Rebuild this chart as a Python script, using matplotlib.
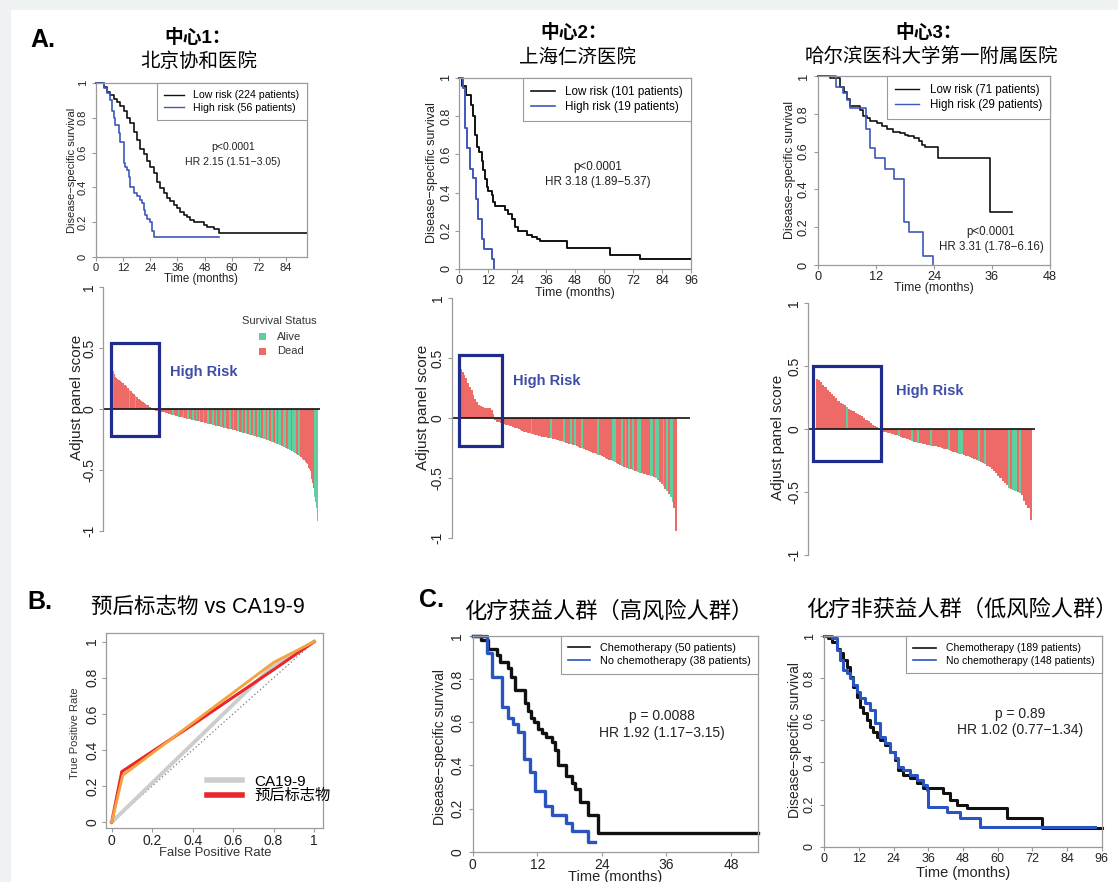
import numpy as np
import matplotlib
matplotlib.use('Agg')
import matplotlib.pyplot as plt
from matplotlib.patches import Rectangle
from matplotlib.lines import Line2D

# ---------------- data ----------------
# panel A, Kaplan-Meier curves (months, survival)
km1_low_t = [0, 3.4, 4.9, 6.3, 7.8, 9.3, 10.8, 12.2, 13.7, 15.2, 16.7, 18.1, 19.6, 21.1, 22.6, 24.0, 25.5,
             27.0, 28.4, 29.9, 31.4, 32.9, 34.3, 35.8, 37.3, 38.8, 40.2, 41.7, 43.2, 47.6, 49.1, 52.0, 54.2, 93.3]
km1_low_s = [1, 0.977, 0.95, 0.93, 0.91, 0.89, 0.87, 0.84, 0.80, 0.77, 0.72, 0.67, 0.62, 0.59, 0.55, 0.52, 0.48,
             0.43, 0.395, 0.37, 0.34, 0.32, 0.30, 0.28, 0.26, 0.24, 0.23, 0.21, 0.20, 0.185, 0.17, 0.16, 0.137, 0.137]
km1_high_t = [0, 3.4, 4.9, 6.3, 7.1, 7.8, 8.5, 10.0, 10.8, 12.2, 13.0, 13.7, 14.4, 15.2, 16.7, 18.1, 19.6,
              20.3, 21.1, 21.8, 22.6, 24.0, 24.8, 25.8, 54.2]
km1_high_s = [1, 0.97, 0.94, 0.90, 0.84, 0.80, 0.76, 0.71, 0.66, 0.54, 0.52, 0.50, 0.46, 0.40, 0.37, 0.35, 0.33,
              0.31, 0.27, 0.24, 0.22, 0.20, 0.147, 0.113, 0.113]

km2_low_t = [0, 1.1, 2.9, 4.8, 5.7, 6.6, 7.6, 8.4, 9.4, 10.1, 10.8, 11.4, 12.1, 13.5, 14.2, 14.9, 19.0, 20.4,
             21.8, 23.2, 24.6, 28.0, 30.1, 32.1, 33.5, 44.6, 62.5, 74.9, 96]
km2_low_s = [1, 0.956, 0.91, 0.86, 0.80, 0.70, 0.64, 0.61, 0.565, 0.52, 0.47, 0.43, 0.41, 0.39, 0.35, 0.33, 0.31,
             0.29, 0.26, 0.22, 0.197, 0.18, 0.17, 0.157, 0.148, 0.11, 0.075, 0.052, 0.052]
km2_high_t = [0, 1.5, 2.5, 3.4, 4.6, 5.7, 6.9, 8.0, 9.4, 10.3, 13.5, 14.5]
km2_high_s = [1, 0.947, 0.737, 0.632, 0.526, 0.474, 0.368, 0.263, 0.158, 0.105, 0.053, 0.0]

km3_low_t = [0, 2.5, 4.6, 5.3, 6.0, 6.7, 8.7, 9.4, 10.1, 10.8, 12.2, 13.2, 14.2, 15.6, 17.0, 18.0, 18.7, 19.8,
             20.8, 21.5, 22.2, 24.9, 35.6, 40.1]
km3_low_s = [1, 0.987, 0.94, 0.917, 0.88, 0.84, 0.82, 0.79, 0.776, 0.763, 0.75, 0.735, 0.72, 0.705, 0.70, 0.69,
             0.68, 0.67, 0.655, 0.635, 0.626, 0.564, 0.282, 0.282]
km3_high_t = [0, 3.8, 5.2, 6.0, 6.6, 9.9, 10.7, 11.7, 13.9, 15.8, 17.8, 18.9, 21.8, 23.8]
km3_high_s = [1, 0.94, 0.91, 0.875, 0.83, 0.72, 0.62, 0.565, 0.51, 0.455, 0.23, 0.175, 0.05, 0.0]

km_labels = [['Low risk (224 patients)', 'High risk (56 patients)'],
             ['Low risk (101 patients)', 'High risk (19 patients)'],
             ['Low risk (71 patients)', 'High risk (29 patients)']]
km_stats = [['p<0.0001', 'HR 2.15 (1.51\u22123.05)'],
            ['p<0.0001', 'HR 3.18 (1.89\u22125.37)'],
            ['p<0.0001', 'HR 3.31 (1.78\u22126.16)']]

# panel A, waterfall of adjusted panel score (sorted), A = alive, D = dead
wf1_score = [0.40, 0.36, 0.33, 0.31, 0.29, 0.27, 0.26, 0.255, 0.25, 0.245, 0.24, 0.235, 0.23, 0.225, 0.22, 0.215,
             0.21, 0.205, 0.20, 0.195, 0.19, 0.18, 0.175, 0.17, 0.16, 0.155, 0.15, 0.145, 0.14, 0.13, 0.125, 0.12,
             0.115, 0.11, 0.10, 0.095, 0.09, 0.085, 0.08, 0.075, 0.07, 0.065, 0.06, 0.055, 0.05, 0.047, 0.044,
             0.04, 0.036, 0.033, 0.03, 0.025, 0.02, 0.016, 0.012, 0.008,
             -0.005, -0.008, -0.01, -0.012, -0.014, -0.016, -0.018, -0.019, -0.02, -0.021, -0.022, -0.023, -0.024,
             -0.025, -0.026, -0.027, -0.028, -0.03,
             -0.032, -0.034, -0.036, -0.038, -0.04, -0.042, -0.044, -0.046, -0.048, -0.05, -0.051, -0.053, -0.054,
             -0.056, -0.057, -0.059, -0.06, -0.062, -0.063, -0.065, -0.066, -0.068, -0.069, -0.071, -0.072, -0.074,
             -0.076,
             -0.077, -0.079, -0.08, -0.082, -0.083, -0.084, -0.086, -0.087, -0.088, -0.09, -0.091, -0.092, -0.094,
             -0.095, -0.096, -0.097, -0.098, -0.099,
             -0.10, -0.102, -0.104, -0.105, -0.107, -0.109, -0.11, -0.112, -0.114, -0.115, -0.117, -0.119, -0.12,
             -0.122, -0.124, -0.125, -0.127, -0.129, -0.13, -0.132, -0.133, -0.135, -0.136,
             -0.137, -0.139, -0.14, -0.142, -0.143, -0.145, -0.146, -0.148, -0.149, -0.151, -0.152, -0.154, -0.155,
             -0.157, -0.158, -0.16, -0.161, -0.162, -0.164, -0.165, -0.166, -0.168, -0.169,
             -0.17, -0.172, -0.174, -0.176, -0.178, -0.18, -0.182, -0.184, -0.186, -0.188, -0.19, -0.192, -0.193,
             -0.195, -0.197, -0.199, -0.2, -0.202, -0.204, -0.205, -0.207, -0.209,
             -0.21, -0.212, -0.214, -0.215, -0.217, -0.219, -0.22, -0.222, -0.224, -0.226, -0.228, -0.229, -0.231,
             -0.233, -0.235, -0.236, -0.238, -0.24, -0.242, -0.243, -0.245, -0.247, -0.249,
             -0.25, -0.253, -0.255, -0.258, -0.26, -0.263, -0.265, -0.268, -0.27, -0.273, -0.275, -0.278, -0.28,
             -0.283, -0.285, -0.288, -0.29, -0.293, -0.296, -0.299, -0.302, -0.305, -0.308,
             -0.31, -0.313, -0.316, -0.319, -0.322, -0.325, -0.328, -0.331, -0.334, -0.337, -0.34, -0.344, -0.347,
             -0.35, -0.354, -0.358, -0.362, -0.366, -0.37, -0.374, -0.378, -0.382, -0.386,
             -0.39, -0.396, -0.402, -0.408, -0.414, -0.42, -0.427, -0.434, -0.44,
             -0.45, -0.465, -0.48, -0.495, -0.51,
             -0.54, -0.57, -0.61, -0.65, -0.69, -0.72, -0.76, -0.81, -0.86, -0.92]
wf1_status = ("DDDADDDDDD" "DDDDDDDDDD" "DDDDDADDAD" "DDDADDDDDD" "ADDDDDDADD" "DDDDDD"
              "DDDDDDADDDDDDDAD" "DDDDDDADDDDAADDD" "DDDADDDDDAADDDDA" "ADDDDDAADDDADDDA"
              "ADDDAADDDDAAADDD" "DAADDDAADDDAAADD" "DAAADDDDAADDDAAD" "DDAAADDDDAADDAAA"
              "DDDAADDDAAADDDAA" "DAADDDAAADDAAADD" "AAADDDAADDAAAADD" "DAAAADDDAAADDAAA"
              "AADDDAADDDDDDDDD" "DDDDDDDDDDDAAAAA")

wf2_score = [0.41, 0.38, 0.36, 0.33, 0.29, 0.26, 0.23, 0.19, 0.16, 0.13, 0.11, 0.10, 0.09, 0.085, 0.083, 0.08,
             0.08, 0.07, 0.03,
             -0.02, -0.03, -0.035, -0.04, -0.045, -0.05, -0.055, -0.06, -0.065, -0.07, -0.075,
             -0.08, -0.087, -0.094, -0.10, -0.107, -0.113, -0.118, -0.123, -0.128,
             -0.133, -0.137, -0.14, -0.144, -0.148, -0.151, -0.155, -0.158, -0.161, -0.164, -0.167, -0.17, -0.173,
             -0.175, -0.18, -0.185, -0.19, -0.195, -0.2, -0.205, -0.21, -0.214,
             -0.217, -0.223, -0.229, -0.235, -0.241, -0.247, -0.253, -0.259, -0.265,
             -0.27, -0.276, -0.282, -0.288, -0.294, -0.3, -0.306, -0.312, -0.318, -0.324,
             -0.33, -0.338, -0.346, -0.354, -0.362, -0.37, -0.378, -0.386, -0.394,
             -0.40, -0.405, -0.41, -0.416, -0.422, -0.428, -0.434, -0.44, -0.445,
             -0.45, -0.455, -0.46, -0.464, -0.468, -0.472, -0.476, -0.481, -0.486,
             -0.49, -0.5, -0.52, -0.535, -0.55, -0.57, -0.59, -0.61, -0.635, -0.66, -0.7, -0.75, -0.94]
wf2_status = ("DDDDDDDDDDDDDDDDDDD"
              "DDDDDDDDDD" "DDDDDDDDDD" "ADDDDDDDDD" "DADDDDDDAD" "DDADADDDAD"
              "DDDDDDDADD" "DDDDDAADDD" "ADADADADDA" "ADDDDDAADA" "ADDADADAAD" "D")

wf3_score = [0.40, 0.39, 0.37, 0.35, 0.33, 0.31, 0.29, 0.275, 0.26, 0.245, 0.225, 0.21, 0.20, 0.19, 0.175, 0.16,
             0.15, 0.14, 0.13, 0.12, 0.11, 0.10, 0.085, 0.075, 0.06, 0.045, 0.035, 0.025, 0.012,
             -0.01, -0.014, -0.02, -0.025, -0.03, -0.035, -0.04,
             -0.045, -0.051, -0.057, -0.063, -0.068, -0.074, -0.08, -0.087, -0.094,
             -0.10, -0.105, -0.11, -0.115, -0.12, -0.123, -0.126, -0.129, -0.132,
             -0.135, -0.138, -0.142, -0.146, -0.15, -0.156, -0.162, -0.168, -0.174,
             -0.18, -0.185, -0.19, -0.195, -0.2, -0.205, -0.211, -0.217, -0.223,
             -0.23, -0.238, -0.246, -0.254, -0.262, -0.27, -0.28, -0.29,
             -0.30, -0.316, -0.333, -0.35, -0.37, -0.39, -0.41, -0.43, -0.448,
             -0.465, -0.475, -0.485, -0.495, -0.503, -0.511, -0.52,
             -0.57, -0.60, -0.63, -0.72]
wf3_status = ("DDDDDDDDDDDDDDADDDDDDDDDDDDDD"
              "DDDDDDDDDA" "DDDDDADDAD" "DDDDADDDDD" "DDADDDDAAD" "DDDDDDADDA"
              "DDDDDDDDDD" "ADAADADDDD" "D")

# panel B, ROC curves
roc_diag = [0, 1]
roc_ca_fpr = [0, 0.8, 1]
roc_ca_tpr = [0, 0.87, 1]
roc_red_fpr = [0, 0.05, 0.4, 0.8, 1]
roc_red_tpr = [0, 0.28, 0.54, 0.845, 1]
roc_org_fpr = [0, 0.055, 0.4, 0.8, 1]
roc_org_tpr = [0, 0.26, 0.55, 0.885, 1]
roc_labels = ['CA19-9', '预后标志物']

# panel C, chemotherapy benefit
cl_chemo_t = [0, 1.55, 2.9, 4.45, 5.07, 6.6, 7.2, 7.85, 9.7, 10.3, 10.9, 11.4, 12.1, 12.8, 13.7, 14.7, 15.3,
              15.9, 17.4, 18.4, 19.0, 19.9, 21.5, 23.3, 53]
cl_chemo_s = [1, 0.98, 0.94, 0.91, 0.88, 0.85, 0.81, 0.75, 0.69, 0.65, 0.62, 0.60, 0.57, 0.55, 0.53, 0.51, 0.47,
              0.40, 0.35, 0.32, 0.29, 0.23, 0.17, 0.085, 0.085]
cl_no_t = [0, 2.7, 3.5, 5.4, 6.6, 7.5, 8.5, 9.5, 10.6, 11.6, 13.5, 14.7, 17.4, 18.4, 21.5, 22.7]
cl_no_s = [1, 0.92, 0.81, 0.67, 0.62, 0.59, 0.555, 0.43, 0.37, 0.28, 0.21, 0.17, 0.135, 0.095, 0.045, 0.045]

cr_chemo_t = [0, 1.4, 2.5, 4.3, 5.4, 6.6, 7.7, 8.9, 10.0, 11.2, 12.3, 13.5, 14.7, 15.8, 17.0, 18.1, 19.3, 21.0,
              22.7, 24.5, 25.6, 27.3, 29.7, 32.0, 34.3, 41.2, 43.5, 45.8, 49.3, 63.1, 75.2, 96]
cr_chemo_s = [1, 0.99, 0.97, 0.94, 0.92, 0.886, 0.854, 0.807, 0.76, 0.712, 0.665, 0.633, 0.60, 0.57, 0.546,
              0.522, 0.506, 0.483, 0.45, 0.41, 0.364, 0.34, 0.324, 0.30, 0.277, 0.253, 0.222, 0.198, 0.182,
              0.134, 0.087, 0.087]
cr_no_t = [0, 2.5, 4.3, 5.4, 6.6, 7.7, 8.9, 10.0, 11.2, 12.3, 14.1, 15.8, 17.5, 19.3, 21.0, 22.7, 24.5, 25.6,
           27.3, 29.7, 32.0, 34.3, 35.4, 36.0, 42.3, 47.0, 53.9, 93.7]
cr_no_s = [1, 0.99, 0.934, 0.886, 0.84, 0.823, 0.80, 0.767, 0.736, 0.704, 0.68, 0.65, 0.585, 0.522, 0.49, 0.45,
           0.42, 0.38, 0.364, 0.34, 0.316, 0.293, 0.269, 0.19, 0.166, 0.134, 0.095, 0.095]

c_labels = [['Chemotherapy (50 patients)', 'No chemotherapy (38 patients)'],
            ['Chemotherapy (189 patients)', 'No chemotherapy (148 patients)']]
c_stats = [['p = 0.0088', 'HR 1.92 (1.17\u22123.15)'],
           ['p = 0.89', 'HR 1.02 (0.77\u22121.34)']]

surv_ticks = [0, 0.2, 0.4, 0.6, 0.8, 1]
surv_tick_labels = ['0', '0.2', '0.4', '0.6', '0.8', '1']
score_ticks = [-1, -0.5, 0, 0.5, 1]
score_tick_labels = ['-1', '-0.5', '0', '0.5', '1']

# ---------------- style ----------------
BLACK = '#111111'
BLUE_A = '#4058bb'
BLUE_C = '#2a55c0'
ALIVE = '#5fcf9f'
DEAD = '#ee6a66'
FRAME = '#9a9a9a'
BOXC = '#1f2c8c'
HRC = '#3d4ca6'

W, H = 1118, 882
plt.rcParams['font.family'] = ['Liberation Sans', 'Noto Sans CJK SC']
plt.rcParams['axes.unicode_minus'] = False

fig = plt.figure(figsize=(W / 100, H / 100), dpi=100)
fig.patch.set_facecolor('#eff2f2')
fig.add_artist(Rectangle((11 / W, 0), 1 - 11 / W, 1 - 10 / H, transform=fig.transFigure,
                         facecolor='white', edgecolor='none', zorder=-10))


def px(l, t, r, b):
    return [l / W, 1 - b / H, (r - l) / W, (b - t) / H]


def txt(x, y, s, **kw):
    kw.setdefault('ha', 'center')
    kw.setdefault('va', 'center')
    fig.text(x / W, 1 - y / H, s, **kw)


def frame(ax, fs, pad=3):
    for sp in ax.spines.values():
        sp.set_color(FRAME)
        sp.set_linewidth(0.9)
    ax.tick_params(length=3, width=0.8, color=FRAME, labelsize=fs, labelcolor='#222222', pad=pad)
    ax.tick_params(axis='x', pad=1.2)
    for lab in ax.get_yticklabels():
        lab.set_rotation(90)
        lab.set_va('center')


def km(rect, xmax, xticks, curves, lw, fs, labels, leg_fs, leg_lw, hl, ypad=3):
    ax = fig.add_axes(px(*rect))
    for t, s, c in curves:
        ax.step(t, s, where='post', color=c, lw=lw, clip_on=False)
    ax.set_xlim(0, xmax)
    ax.set_ylim(0, 1)
    ax.set_xticks(xticks)
    ax.set_xticklabels([str(v) for v in xticks])
    ax.set_yticks(surv_ticks)
    ax.set_yticklabels(surv_tick_labels)
    frame(ax, fs, pad=ypad)
    handles = [Line2D([], [], color=c, lw=leg_lw) for _, _, c in curves]
    leg = ax.legend(handles, labels, loc='upper right', bbox_to_anchor=(1, 1), borderaxespad=0,
                    fancybox=False, framealpha=1, fontsize=leg_fs, handlelength=hl,
                    handletextpad=0.9, borderpad=0.7, labelspacing=0.25)
    leg.get_frame().set_edgecolor(FRAME)
    leg.get_frame().set_linewidth(0.8)
    return ax


def waterfall(rect, scores, status, pad, box, fs):
    n = len(scores)
    ax = fig.add_axes(px(*rect))
    cols = [ALIVE if status[i] == 'A' else DEAD for i in range(n)]
    ax.bar(np.arange(n), scores, width=1.0, color=cols, linewidth=0)
    ax.axhline(0, color=BLACK, lw=1.2)
    ax.set_xlim(-0.5 - pad[0], n - 0.5 + pad[1])
    ax.set_ylim(-1, 1)
    nhigh = sum(1 for v in scores if v > 0)
    x0 = -0.5 + box[0]
    x1 = nhigh - 0.5 + box[1]
    ax.add_patch(Rectangle((x0, box[3]), x1 - x0, box[2] - box[3], fill=False,
                           edgecolor=BOXC, lw=2.3, zorder=5))
    for s in ['top', 'right', 'bottom']:
        ax.spines[s].set_visible(False)
    ax.set_xticks([])
    ax.set_yticks(score_ticks)
    ax.set_yticklabels(score_tick_labels)
    frame(ax, fs, pad=2)
    return ax


# ---------------- panel A: KM ----------------
km(( 96, 83, 307, 257), 93.3, [0, 12, 24, 36, 48, 60, 72, 84],
   [(km1_low_t, km1_low_s, BLACK), (km1_high_t, km1_high_s, BLUE_A)], 1.2, 8,
   km_labels[0], 7.6, 1.0, 1.9)
km((459, 78, 691, 269), 96, [0, 12, 24, 36, 48, 60, 72, 84, 96],
   [(km2_low_t, km2_low_s, BLACK), (km2_high_t, km2_high_s, BLUE_A)], 1.4, 9,
   km_labels[1], 8.4, 1.2, 2.0, ypad=2)
km((818, 76, 1050, 265), 48, [0, 12, 24, 36, 48],
   [(km3_low_t, km3_low_s, BLACK), (km3_high_t, km3_high_s, BLUE_A)], 1.2, 9.2,
   km_labels[2], 8.3, 1.0, 2.1)

txt(43, 40, 'A.', fontsize=18, fontweight='bold')
txt(198, 38, '中心1：', fontsize=13.5, fontweight='bold')
txt(199, 62, '北京协和医院', fontsize=14)
txt(574, 33, '中心2：', fontsize=13.5, fontweight='bold')
txt(577, 58, '上海仁济医院', fontsize=14)
txt(929, 33, '中心3：', fontsize=13.5, fontweight='bold')
txt(931, 57, '哈尔滨医科大学第一附属医院', fontsize=14)

for (x, y1, y2), st, fs in zip([(233, 147, 162), (598, 167, 182), (991, 232, 247)], km_stats, [7.6, 8.4, 8.3]):
    txt(x, y1, st[0], fontsize=fs, color='#222222')
    txt(x, y2, st[1], fontsize=fs, color='#222222')

for (x, y), fs in zip([(72, 170), (432, 173), (790, 170)], [8, 9, 8.8]):
    txt(x, y, 'Disease\u2212specific survival', fontsize=fs, rotation=90, color='#222222')
for (x, y), fs in zip([(201, 279), (575, 293), (934, 288)], [8.3, 8.9, 8.9]):
    txt(x, y, 'Time (months)', fontsize=fs, color='#222222')

# ---------------- panel A: waterfalls ----------------
waterfall((103, 287, 320, 531), wf1_score, wf1_status, (10.8, 2.7), (0, 8.5, 0.54, -0.22), 10)
waterfall((451.7, 298, 690, 538), wf2_score, wf2_status, (4.6, 7.2), (-0.4, 4.0, 0.525, -0.23), 10)
waterfall((808, 303, 1035, 555), wf3_score, wf3_status, (3.6, 1.5), (-1.25, 1.2, 0.5, -0.254), 10)

for x, y in [(77, 397), (423, 407), (778, 437)]:
    txt(x, y, 'Adjust panel score', fontsize=11, rotation=90, color='#222222')
for x, y in [(170, 372), (513, 381), (896, 391)]:
    txt(x, y, 'High Risk', fontsize=10.5, fontweight='bold', color=HRC, ha='left')

txt(279, 321, 'Survival Status', fontsize=8, color='#333333')
for (y, c, lab) in [(337, ALIVE, 'Alive'), (351, DEAD, 'Dead')]:
    fig.add_artist(Rectangle((259 / W, 1 - (y + 3.5) / H), 7 / W, 7 / H, transform=fig.transFigure,
                             facecolor=c, edgecolor='none'))
    txt(277, y, lab, fontsize=8, ha='left', color='#333333')

# ---------------- panel B: ROC ----------------
axb = fig.add_axes(px(106, 633, 323, 828))
axb.plot(roc_diag, roc_diag, ls=(0, (1, 2)), color='#777777', lw=0.9)
axb.plot(roc_ca_fpr, roc_ca_tpr, color='#cdcdcd', lw=2.8)
axb.plot(roc_red_fpr, roc_red_tpr, color='#e8262b', lw=2.2)
axb.plot(roc_org_fpr, roc_org_tpr, color='#f4a23c', lw=2.0)
axb.set_xlim(-0.028, 1.044)
axb.set_ylim(-0.032, 1.048)
axb.set_xticks(surv_ticks)
axb.set_xticklabels(surv_tick_labels)
axb.set_yticks(surv_ticks)
axb.set_yticklabels(surv_tick_labels)
frame(axb, 10, pad=2)
leg = axb.legend([Line2D([], [], color='#cdcdcd', lw=4), Line2D([], [], color='#e8262b', lw=4)], roc_labels,
                 loc='center left', bbox_to_anchor=(199 / W, 1 - 789 / H), bbox_transform=fig.transFigure,
                 frameon=False, fontsize=11, handlelength=2.3, handletextpad=0.8, labelspacing=0.05,
                 borderpad=0)
txt(75, 733, 'True Positive Rate', fontsize=8, rotation=90, color='#333333')
txt(215, 853, 'False Positive Rate', fontsize=9.4, color='#333333')
txt(40, 602, 'B.', fontsize=18, fontweight='bold')
txt(198, 607, '预后标志物 vs CA19-9', fontsize=15.5)

# ---------------- panel C ----------------
km((472.7, 635.7, 758, 851.7), 53, [0, 12, 24, 36, 48],
   [(cl_chemo_t, cl_chemo_s, BLACK), (cl_no_t, cl_no_s, BLUE_C)], 2.4, 10,
   c_labels[0], 7.8, 1.2, 2.0)
km((824.3, 636, 1101.7, 846.7), 96, [0, 12, 24, 36, 48, 60, 72, 84, 96],
   [(cr_chemo_t, cr_chemo_s, BLACK), (cr_no_t, cr_no_s, BLUE_C)], 2.2, 9,
   c_labels[1], 7.5, 1.2, 2.2)

txt(432, 600, 'C.', fontsize=18, fontweight='bold')
txt(609, 612, '化疗获益人群（高风险人群）', fontsize=16)
txt(962, 610, '化疗非获益人群（低风险人群）', fontsize=16)
for (x, y1, y2), st in zip([(662, 716, 733), (1020, 714, 730)], c_stats):
    txt(x, y1, st[0], fontsize=10, color='#222222')
    txt(x, y2, st[1], fontsize=10, color='#222222')
for x, y in [(440, 747), (795, 740)]:
    txt(x, y, 'Disease\u2212specific survival', fontsize=10, rotation=90, color='#222222')
for x, y in [(615, 877), (963, 873)]:
    txt(x, y, 'Time (months)', fontsize=10.5, color='#222222')

fig.savefig('out.png', dpi=100, facecolor=fig.get_facecolor())
